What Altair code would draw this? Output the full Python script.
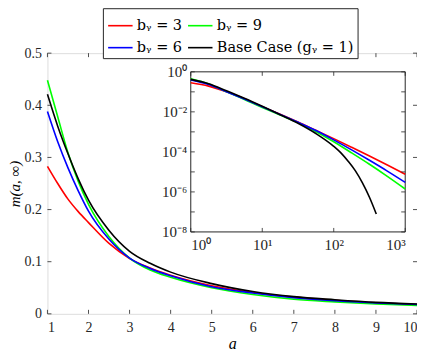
import altair as alt
import pandas as pd

W, H = 370, 261
FONT = "Liberation Serif"
LFONT = "DejaVu Serif"
AX = "#262626"

series = ["bᵧ = 3", "bᵧ = 9", "bᵧ = 6", "Base Case (gᵧ = 1)"]
colors = ["#ff0000", "#00ff00", "#0000ff", "#000000"]

# main panel
a_main = [1, 1.25, 1.5, 1.75, 2, 2.5, 3, 3.5, 4, 5, 6, 7, 8, 9, 10]
m_b3 = [0.283, 0.250, 0.220, 0.196, 0.175, 0.135, 0.106, 0.088, 0.074, 0.054, 0.041, 0.032, 0.026, 0.021, 0.018]
m_b9 = [0.448, 0.378, 0.309, 0.254, 0.210, 0.148, 0.107, 0.084, 0.070, 0.050, 0.037, 0.028, 0.023, 0.019, 0.016]
m_b6 = [0.388, 0.330, 0.280, 0.236, 0.197, 0.143, 0.107, 0.087, 0.073, 0.052, 0.040, 0.031, 0.025, 0.021, 0.018]
m_base = [0.421, 0.360, 0.307, 0.259, 0.218, 0.160, 0.120, 0.097, 0.080, 0.058, 0.043, 0.033, 0.027, 0.022, 0.019]

# inset (log-log)
a_ins = [1, 1.78, 3.16, 5.62, 10, 17.8, 31.6, 56.2, 100, 178, 316, 562, 1000]
i_b3 = [0.283, 0.193, 0.100, 0.0447, 0.0182, 7.6e-3, 3.1e-3, 1.2e-3, 4.6e-4, 1.7e-4, 6.2e-5, 2.2e-5, 7.6e-6]
i_b6 = [0.388, 0.230, 0.102, 0.0437, 0.0182, 7.4e-3, 3.0e-3, 1.17e-3, 4.0e-4, 1.26e-4, 3.8e-5, 1.1e-5, 3.0e-6]
i_b9 = [0.448, 0.250, 0.100, 0.0417, 0.0166, 6.9e-3, 2.9e-3, 1.05e-3, 3.2e-4, 8.9e-5, 2.4e-5, 6.0e-6, 1.4e-6]
a_ins_base = [1, 1.78, 3.16, 5.62, 10, 17.8, 31.6, 56.2, 100, 126, 158, 200, 251, 316, 394]
i_base = [0.421, 0.255, 0.113, 0.048, 0.019, 7.2e-3, 2.7e-3, 8.3e-4, 1.9e-4, 8.9e-5, 3.5e-5, 1.15e-5, 2.9e-6, 5.4e-7, 7.8e-8]

x_ticks = [1, 2, 3, 4, 5, 6, 7, 8, 9, 10]
y_ticks = [0, 0.1, 0.2, 0.3, 0.4, 0.5]
ix_ticks = [1, 10, 100, 1000]
iy_ticks = [1e-8, 1e-7, 1e-6, 1e-5, 1e-4, 1e-3, 1e-2, 1e-1, 1]
iy_labels = [1e-8, 1e-6, 1e-4, 1e-2, 1]

# inset pixel frame inside the main view
IX0, IX1 = 143.5, 358.2
IY0, IY1 = 18.7, 179.0


def long(avals, lists, names):
    rows = []
    for name, vals, av in zip(names, lists, avals):
        for a, m in zip(av, vals):
            rows.append({"a": a, "m": m, "s": name})
    return pd.DataFrame(rows)


main_df = long([a_main] * 4, [m_b3, m_b9, m_b6, m_base], series)
ins_df = long([a_ins, a_ins, a_ins, a_ins_base], [i_b3, i_b9, i_b6, i_base], series)

color = alt.Color(
    "s:N",
    scale=alt.Scale(domain=series, range=colors),
    sort=series,
    legend=alt.Legend(
        title=None, orient="none", legendX=55.5, legendY=-45, columns=2,
        direction="horizontal",
        strokeColor=AX, fillColor="white", padding=4, labelFont=LFONT,
        labelFontSize=14.5, labelColor="#000", labelLimit=0, symbolType="stroke",
        symbolSize=600, symbolStrokeWidth=1.6, columnPadding=2, rowPadding=2,
        labelOffset=3,
    ),
)

mx = alt.Scale(domain=[1, 10], nice=False)
my = alt.Scale(domain=[0, 0.5], nice=False)

main_lines = alt.Chart(main_df).mark_line(strokeWidth=1.6, interpolate="monotone").encode(
    x=alt.X("a:Q", scale=mx, axis=alt.Axis(
        values=x_ticks, title="a", titleFontStyle="italic", titleFont=FONT, titleFontSize=16,
        titleFontWeight="normal", titleColor="#000", titlePadding=1,
        labelFont=FONT, labelFontSize=14, labelColor=AX, ticks=False, domain=False,
        grid=False, labelPadding=7)),
    y=alt.Y("m:Q", scale=my, axis=alt.Axis(
        values=y_ticks, title="m(a, ∞)", titleFontStyle="italic", titleFont=FONT,
        titleFontSize=15, titleFontWeight="normal", titleColor="#000", titlePadding=1,
        labelFont=FONT, labelFontSize=14, labelColor=AX, ticks=False, domain=False,
        grid=False, labelPadding=6,
        labelExpr="datum.value == 0 ? '0' : format(datum.value, '.1f')")),
    color=color,
)

xt = pd.DataFrame({"a": x_ticks})
yt = pd.DataFrame({"m": y_ticks})
tick_b = alt.Chart(xt).mark_rule(color=AX, strokeWidth=0.8).encode(
    x=alt.X("a:Q", scale=mx), y=alt.value(H), y2=alt.value(H - 4))
tick_t = alt.Chart(xt).mark_rule(color=AX, strokeWidth=0.8).encode(
    x=alt.X("a:Q", scale=mx), y=alt.value(0), y2=alt.value(4))
tick_l = alt.Chart(yt).mark_rule(color=AX, strokeWidth=0.8).encode(
    y=alt.Y("m:Q", scale=my), x=alt.value(0), x2=alt.value(4))
tick_r = alt.Chart(yt).mark_rule(color=AX, strokeWidth=0.8).encode(
    y=alt.Y("m:Q", scale=my), x=alt.value(W), x2=alt.value(W - 4))

main = alt.layer(main_lines, tick_b, tick_t, tick_l, tick_r)

ix = alt.Scale(type="log", domain=[1, 1000], range=[IX0, IX1], nice=False)
iy = alt.Scale(type="log", domain=[1e-8, 1], range=[IY1, IY0], nice=False)

bg = alt.Chart(pd.DataFrame({"a": [1], "a2": [1000], "m": [1e-8], "m2": [1]})).mark_rect(
    fill="white", stroke=AX, strokeWidth=1).encode(
    x=alt.X("a:Q", scale=ix, axis=alt.Axis(
        orient="bottom", offset=IY1 - H, values=ix_ticks, title=None, ticks=False,
        domain=False, grid=False, labelFont=FONT, labelFontSize=15, labelColor=AX,
        labelPadding=6,
        labelExpr="datum.value == 1 ? '10⁰' : datum.value == 10 ? '10¹' : datum.value == 100 ? '10²' : '10³'")),
    x2="a2:Q",
    y=alt.Y("m:Q", scale=iy, axis=alt.Axis(
        orient="left", offset=-IX0, values=iy_labels, title=None, ticks=False,
        domain=False, grid=False, labelFont=FONT, labelFontSize=15, labelColor=AX,
        labelPadding=4,
        labelExpr="datum.value > 0.5 ? '10⁰' : datum.value > 5e-3 ? '10⁻²' : datum.value > 5e-5 ? '10⁻⁴' : datum.value > 5e-7 ? '10⁻⁶' : '10⁻⁸'")),
    y2="m2:Q",
)

ins_lines = alt.Chart(ins_df).mark_line(strokeWidth=1.6, interpolate="monotone").encode(
    x=alt.X("a:Q", scale=ix), y=alt.Y("m:Q", scale=iy), color=color)

ixt = pd.DataFrame({"a": ix_ticks})
iyt = pd.DataFrame({"m": iy_ticks})
itb = alt.Chart(ixt).mark_rule(color=AX, strokeWidth=0.8).encode(
    x=alt.X("a:Q", scale=ix), y=alt.value(IY1), y2=alt.value(IY1 - 4))
itt = alt.Chart(ixt).mark_rule(color=AX, strokeWidth=0.8).encode(
    x=alt.X("a:Q", scale=ix), y=alt.value(IY0), y2=alt.value(IY0 + 4))
itl = alt.Chart(iyt).mark_rule(color=AX, strokeWidth=0.8).encode(
    y=alt.Y("m:Q", scale=iy), x=alt.value(IX0), x2=alt.value(IX0 + 4))
itr = alt.Chart(iyt).mark_rule(color=AX, strokeWidth=0.8).encode(
    y=alt.Y("m:Q", scale=iy), x=alt.value(IX1), x2=alt.value(IX1 - 4))

inset = alt.layer(bg, ins_lines, itb, itt, itl, itr)

chart = alt.layer(main, inset).resolve_scale(x="independent", y="independent").properties(
    width=W, height=H, autosize=alt.AutoSizeParams(type="none"),
    padding={"left": 39.5, "top": 45, "right": 0, "bottom": 38},
).configure_view(stroke=AX, strokeWidth=1).configure(background="white")

chart.save("out.html", embed_options={"renderer": "svg", "actions": False})
